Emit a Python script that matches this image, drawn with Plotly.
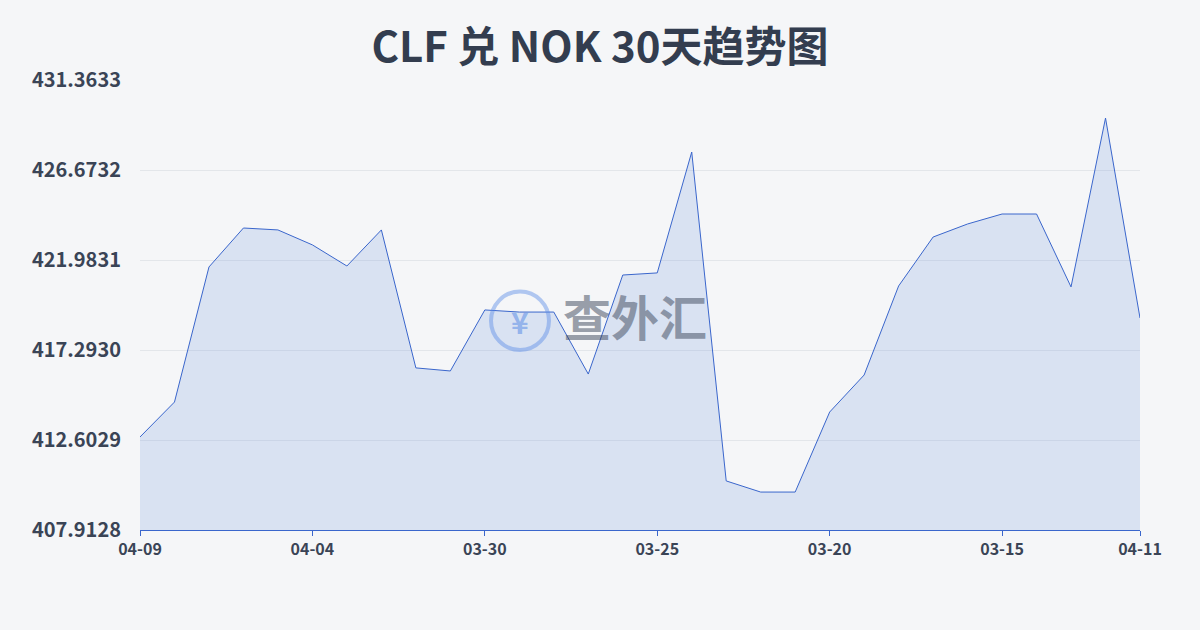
import plotly.graph_objects as go

labels = ["04-09","04-08","04-07","04-06","04-05","04-04","04-03","04-02","04-01","03-31",
          "03-30","03-29","03-28","03-27","03-26","03-25","03-24","03-23","03-22","03-21",
          "03-20","03-19","03-18","03-17","03-16","03-15","03-14","03-13","03-12","04-11"]
values = [412.76,414.58,421.62,423.65,423.55,422.77,421.67,423.55,416.36,416.20,
          419.38,419.27,419.27,416.04,421.20,421.31,427.61,410.47,409.89,409.89,
          414.06,415.99,420.63,423.18,423.86,424.38,424.38,420.58,429.38,418.96]
tick_idx = [0,5,10,15,20,25,29]
y_ticks = [407.9128,412.6029,417.2930,421.9831,426.6732,431.3633]

x = list(range(len(values)))
fig = go.Figure()
fig.add_trace(go.Scatter(x=x, y=values, mode="lines", line=dict(color="#3a66cc", width=1),
                         fill="tozeroy", fillcolor="rgba(120,155,225,0.22)", hoverinfo="skip"))
fig.update_layout(
    width=1200, height=630, showlegend=False,
    margin=dict(l=140, r=60, t=80, b=100),
    paper_bgcolor="#f5f6f8", plot_bgcolor="rgba(0,0,0,0)",
    title=dict(text="<b>CLF 兑 NOK 30天趋势图</b>", x=0.5, y=0.925, xanchor="center", yanchor="middle",
               font=dict(size=42, color="#333d4f", family="Noto Sans CJK SC")),
    font=dict(family="Noto Sans CJK SC", color="#3a4456"),
)
fig.update_xaxes(range=[0, 29], tickvals=tick_idx, ticktext=[f"<b>{labels[i]}</b>" for i in tick_idx],
                 showgrid=False, zeroline=False, showline=True, linecolor="#3a66cc",
                 ticks="outside", tickcolor="#3a66cc", ticklen=5,
                 tickfont=dict(size=16, color="#3a4456"))
fig.update_yaxes(range=[407.9128, 431.3633], tickvals=y_ticks,
                 ticktext=[f"<b>{v:.4f}</b>" for v in y_ticks], showgrid=True, gridcolor="#e3e6ea",
                 zeroline=False, tickfont=dict(size=20, color="#3a4456"), ticklabelstandoff=18)
# watermark (paper coords: x=(px-140)/1000, y=(530-py)/450)
fig.add_shape(type="circle", xref="paper", yref="paper", x0=0.351, x1=0.409, y0=0.40, y1=0.53,
              line=dict(color="rgba(90,140,230,0.45)", width=4))
fig.add_annotation(x=0.38, y=0.465, xref="paper", yref="paper", text="<b>¥</b>", showarrow=False,
                   font=dict(size=30, color="rgba(90,140,230,0.55)"))
fig.add_annotation(x=0.495, y=0.478, xref="paper", yref="paper", text="<b>查外汇</b>", showarrow=False,
                   font=dict(size=48, color="rgba(60,70,90,0.5)"))
fig.write_html("out.html", config={"displayModeBar": False})
with open("out.html", encoding="utf-8") as f:
    html = f.read()
html = html.replace("<head>", "<head><style>html,body{margin:0;padding:0;}</style>", 1)
with open("out.html", "w", encoding="utf-8") as f:
    f.write(html)
